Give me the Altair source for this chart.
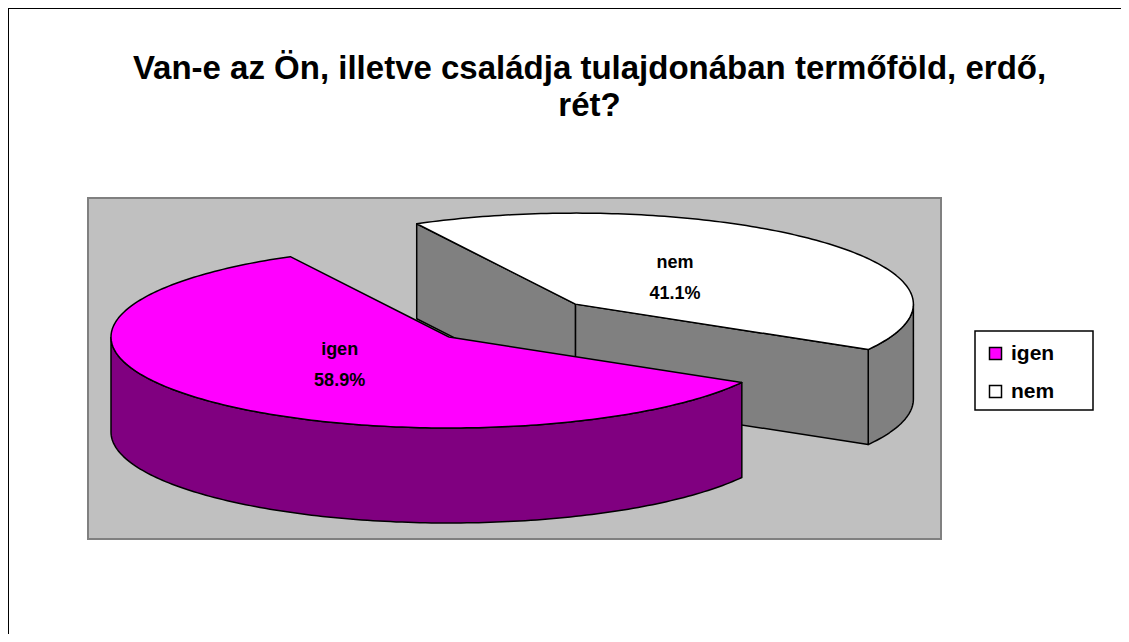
import math
import altair as alt
import pandas as pd

# ---------------- data ----------------
categories = ["igen", "nem"]
values = [58.9, 41.1]
top_colors = ["#FF00FF", "#FFFFFF"]
side_colors = ["#800080", "#808080"]
explode = [0.0, 0.52]
label_r = [0.45, 0.41]
title_lines = ["Van-e az Ön, illetve családja tulajdonában termőföld, erdő,", "rét?"]

# ---------------- layout (page pixel coordinates) ----------------
W, H = 1113, 626
CX, CY = 449.0, 337.0
RX, RY = 338.0, 91.0
DEPTH = 95.0
START = 118.0
FONT = "Liberation Sans"


def rim(cx, cy, th, dz=0.0):
    t = math.radians(th)
    return cx + RX * math.cos(t), cy - RY * math.sin(t) + dz


def arc(cx, cy, a, b, dz=0.0):
    n = max(2, int(abs(b - a) / 1.0) + 1)
    return [rim(cx, cy, a + (b - a) * i / (n - 1), dz) for i in range(n)]


total = sum(values)
slices = []
th = START
for cat, v, e, lr in zip(categories, values, explode, label_r):
    span = v / total * 360.0
    th0, th1 = th, th + span
    mid = (th0 + th1) / 2
    m = math.radians(mid)
    cx = CX + e * RX * math.cos(m)
    cy = CY - e * RY * math.sin(m)
    slices.append(dict(cat=cat, v=v, th0=th0, th1=th1, mid=mid, cx=cx, cy=cy, lr=lr))
    th = th1

top_rows, wall_rows, label_rows = {}, {}, []
for s in slices:
    cat, cx, cy, th0, th1 = s["cat"], s["cx"], s["cy"], s["th0"], s["th1"]
    # top face
    pts = [(cx, cy)] + arc(cx, cy, th0, th1) + [(cx, cy)]
    top_rows[cat] = [dict(category=cat, poly=cat + "_top", idx=i, x=p[0], y=p[1])
                     for i, p in enumerate(pts)]
    # visible side walls
    walls = []
    for k in range(-1, 3):
        lo, hi = max(th0, 180 + 360 * k), min(th1, 360 + 360 * k)
        if hi > lo:
            up = arc(cx, cy, lo, hi)
            dn = arc(cx, cy, hi, lo, DEPTH)
            walls.append(up + dn + [up[0]])
    if math.cos(math.radians(th0)) > 0:
        r = rim(cx, cy, th0)
        walls.append([(cx, cy), r, (r[0], r[1] + DEPTH), (cx, cy + DEPTH), (cx, cy)])
    if math.cos(math.radians(th1)) < 0:
        r = rim(cx, cy, th1)
        walls.append([(cx, cy), r, (r[0], r[1] + DEPTH), (cx, cy + DEPTH), (cx, cy)])
    rows = []
    for j, w in enumerate(walls):
        rows += [dict(category=cat, poly=f"{cat}_wall{j}", idx=i, x=p[0], y=p[1])
                 for i, p in enumerate(w)]
    wall_rows[cat] = rows
    lx, ly = rim(cx, cy, s["mid"])
    label_rows.append(dict(category=cat, x=cx + s["lr"] * (lx - cx), y=cy + s["lr"] * (ly - cy),
                           label=f"{cat}\n{s['v']:.1f}%"))

xs = alt.Scale(domain=[8, 8 + W], nice=False, zero=False)
ys = alt.Scale(domain=[8, 8 + H], nice=False, zero=False, reverse=True)
X = alt.X("x:Q", scale=xs, axis=None)
Y = alt.Y("y:Q", scale=ys, axis=None)

fill_enc = alt.Fill(
    "category:N",
    scale=alt.Scale(domain=categories, range=top_colors),
    legend=alt.Legend(
        title=None, orient="none", legendX=967, legendY=325,
        symbolType="square", symbolSize=144, symbolStrokeColor="black",
        symbolStrokeWidth=1.5, labelFont=FONT, labelFontSize=21,
        labelFontWeight="bold", labelColor="black",
        padding=10, rowPadding=16, labelOffset=5,
    ),
)

one = pd.DataFrame({"a": [0]})
bg = alt.Chart(one).mark_rect(
    fill="#C0C0C0", stroke="#808080", strokeWidth=2
).encode(x=alt.value(80), x2=alt.value(933), y=alt.value(190), y2=alt.value(531))

legend_box = alt.Chart(one).mark_rect(
    fill="white", stroke="black", strokeWidth=1.5
).encode(x=alt.value(967), x2=alt.value(1085), y=alt.value(323), y2=alt.value(402))

border_top = alt.Chart(one).mark_rule(color="black", strokeWidth=2).encode(
    x=alt.value(0), x2=alt.value(W), y=alt.value(0))
border_left = alt.Chart(one).mark_rule(color="black", strokeWidth=2).encode(
    x=alt.value(0), y=alt.value(0), y2=alt.value(H))

layers = [bg, legend_box, border_top, border_left]
order_idx = sorted(range(len(slices)), key=lambda i: slices[i]["cy"])
for i in order_idx:
    cat = slices[i]["cat"]
    layers.append(
        alt.Chart(pd.DataFrame(wall_rows[cat])).mark_line(
            fill=side_colors[i], stroke="black", strokeWidth=1.5, strokeJoin="round"
        ).encode(x=X, y=Y, detail="poly:N", order="idx:Q")
    )
    layers.append(
        alt.Chart(pd.DataFrame(top_rows[cat])).mark_line(
            stroke="black", strokeWidth=1.5, strokeJoin="round"
        ).encode(x=X, y=Y, fill=fill_enc, detail="poly:N", order="idx:Q")
    )

labels = alt.Chart(pd.DataFrame(label_rows)).mark_text(
    font=FONT, fontSize=18, fontWeight="bold", color="black",
    lineBreak="\n", lineHeight=31, align="center", baseline="middle", dy=-15
).encode(x=X, y=Y, text="label:N")
layers.append(labels)

chart = alt.layer(*layers).properties(
    width=W, height=H, padding=0,
    autosize=alt.AutoSizeParams(type="none"),
    title=alt.Title(text=title_lines, font=FONT, fontSize=33, fontWeight="bold",
                    color="black", anchor="middle", offset=0, dy=142, dx=25,
                    baseline="alphabetic", lineHeight=37),
).configure_view(stroke=None)

chart.save("out.html", embed_options={"renderer": "svg", "actions": False})
